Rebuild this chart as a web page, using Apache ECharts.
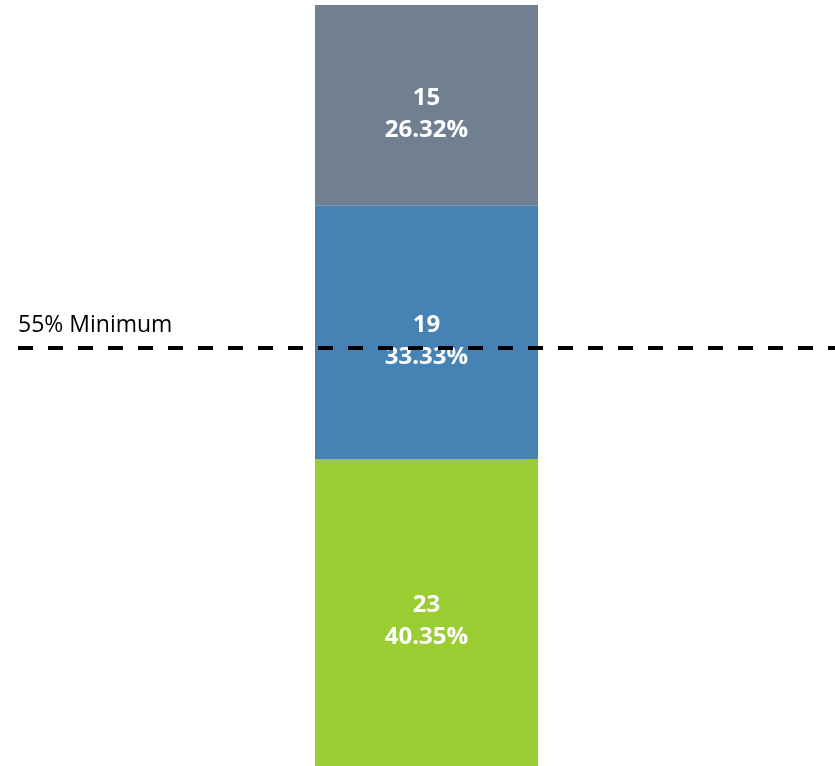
<!DOCTYPE html>
<html>
<head>
<meta charset="utf-8">
<style>
  html, body { margin: 0; padding: 0; background: #ffffff; }
  #chart { width: 835px; height: 766px; }
</style>
<script src="https://cdn.jsdelivr.net/npm/echarts@6/dist/echarts.min.js"></script>
</head>
<body>
<div id="chart"></div>
<script>
// One stacked column: counts per group and their share of the total
const categories = ['Total'];
const groupNames = ['Group A', 'Group B', 'Group C'];
const counts = [23, 19, 15];
const percents = [40.35, 33.33, 26.32];
const colors = ['#9ACD32', '#4682B4', '#708090'];
const thresholdValue = 55;
const thresholdLabel = '55% Minimum';

const FONT = '"Open Sans", "Noto Sans", sans-serif';

const series = groupNames.map((name, i) => ({
  name: name,
  type: 'bar',
  stack: 'total',
  barWidth: 223,
  data: [percents[i]],
  itemStyle: { color: colors[i] },
  label: {
    show: true,
    position: 'inside',
    offset: [0, 9],
    color: '#ffffff',
    fontFamily: FONT,
    fontWeight: 'bold',
    fontSize: 24,
    lineHeight: 32,
    formatter: () => counts[i] + '\n' + percents[i].toFixed(2) + '%'
  }
}));

// Threshold line drawn on top of the column
series.push({
  name: 'threshold',
  type: 'line',
  data: [],
  z: 10,
  markLine: {
    silent: true,
    symbol: 'none',
    z: 10,
    lineStyle: { color: '#000000', width: 4, type: [15, 15] },
    label: {
      show: true,
      position: 'insideStartTop',
      distance: [0, 10],
      color: '#000000',
      fontFamily: FONT,
      fontSize: 23,
      formatter: thresholdLabel
    },
    data: [{ yAxis: thresholdValue }]
  }
});

const chart = echarts.init(document.getElementById('chart'));
chart.setOption({
  animation: false,
  grid: { left: 18, right: -2, top: 5, bottom: 0 },
  xAxis: {
    type: 'category',
    data: categories,
    show: false
  },
  yAxis: {
    type: 'value',
    min: 0,
    max: 100,
    show: false
  },
  series: series
});
</script>
</body>
</html>
